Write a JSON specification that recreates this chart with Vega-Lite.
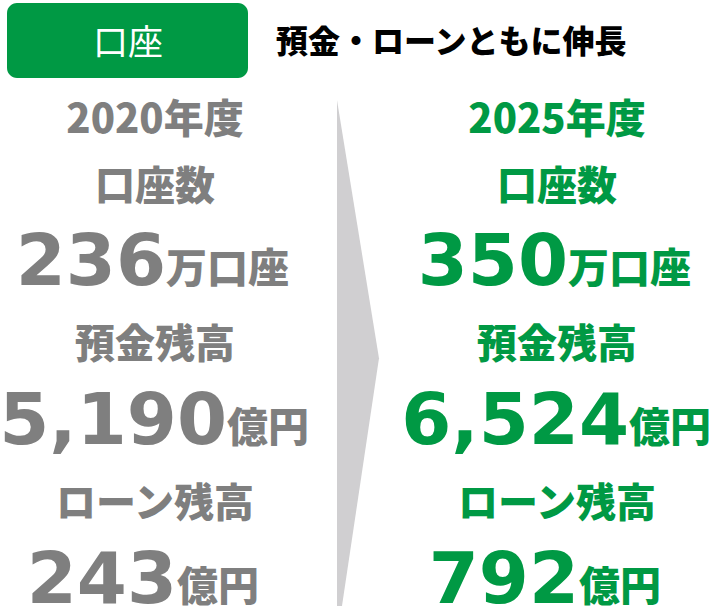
{
  "$schema": "https://vega.github.io/schema/vega-lite/v6.json",
  "width": 718,
  "height": 606,
  "padding": 0,
  "autosize": {"type": "none"},
  "background": "white",
  "config": {"view": {"stroke": null}},
  "datasets": {
    "figures": [
      {"year": "2020年度", "metric": "口座数", "value": 236, "unit": "万口座"},
      {"year": "2020年度", "metric": "預金残高", "value": 5190, "unit": "億円"},
      {"year": "2020年度", "metric": "ローン残高", "value": 243, "unit": "億円"},
      {"year": "2025年度", "metric": "口座数", "value": 350, "unit": "万口座"},
      {"year": "2025年度", "metric": "預金残高", "value": 6524, "unit": "億円"},
      {"year": "2025年度", "metric": "ローン残高", "value": 792, "unit": "億円"}
    ],
    "banner": [{"section": "口座", "headline": "預金・ローンともに伸長"}],
    "transition": [{"step": "→"}]
  },
  "layer": [
    {
      "data": {"name": "transition"},
      "mark": {"type": "point", "shape": "M-0.0736,-1L0.0891,0L-0.0543,0.96L-0.0736,0.96Z", "size": 266256, "filled": true, "color": "#d0cfd1", "opacity": 1, "strokeWidth": 0},
      "encoding": {
        "x": {"field": "step", "type": "nominal", "axis": null, "scale": {"type": "point", "domain": ["2020年度", "→", "2025年度"], "range": [155, 557], "padding": 0}},
        "y": {"datum": "預金残高", "type": "nominal", "axis": null, "scale": {"type": "point", "domain": ["口座数", "預金残高", "ローン残高"], "range": [199.5, 517], "padding": 0}}
      }
    },
    {
      "data": {"name": "banner"},
      "mark": {"type": "rect", "width": 241, "height": 75, "cornerRadius": 10, "color": "#009944", "xOffset": -27.5, "yOffset": -159},
      "encoding": {
        "x": {"datum": "2020年度", "type": "nominal", "axis": null, "scale": {"type": "point", "domain": ["2020年度", "→", "2025年度"], "range": [155, 557], "padding": 0}},
        "y": {"datum": "口座数", "type": "nominal", "axis": null, "scale": {"type": "point", "domain": ["口座数", "預金残高", "ローン残高"], "range": [199.5, 517], "padding": 0}}
      }
    },
    {
      "data": {"name": "banner"},
      "mark": {"type": "text", "align": "center", "baseline": "alphabetic", "dx": -27, "dy": -144.5, "font": "Noto Sans CJK JP", "fontSize": 35, "fontWeight": "normal", "color": "white"},
      "encoding": {
        "x": {"datum": "2020年度", "type": "nominal", "axis": null, "scale": {"type": "point", "domain": ["2020年度", "→", "2025年度"], "range": [155, 557], "padding": 0}},
        "y": {"datum": "口座数", "type": "nominal", "axis": null, "scale": {"type": "point", "domain": ["口座数", "預金残高", "ローン残高"], "range": [199.5, 517], "padding": 0}},
        "text": {"field": "section", "type": "nominal"}
      }
    },
    {
      "data": {"name": "banner"},
      "mark": {"type": "text", "align": "left", "baseline": "alphabetic", "dx": 121, "dy": -146.5, "font": "Noto Sans CJK JP", "fontSize": 32, "fontWeight": 900, "color": "black"},
      "encoding": {
        "x": {"datum": "2020年度", "type": "nominal", "axis": null, "scale": {"type": "point", "domain": ["2020年度", "→", "2025年度"], "range": [155, 557], "padding": 0}},
        "y": {"datum": "口座数", "type": "nominal", "axis": null, "scale": {"type": "point", "domain": ["口座数", "預金残高", "ローン残高"], "range": [199.5, 517], "padding": 0}},
        "text": {"field": "headline", "type": "nominal"}
      }
    },
    {
      "data": {"name": "figures"},
      "transform": [{"filter": "datum.metric === '口座数'"}],
      "mark": {"type": "text", "align": "center", "baseline": "alphabetic", "dy": -66.5, "font": "Noto Sans CJK JP", "fontSize": 40, "fontWeight": 900},
      "encoding": {
        "x": {"field": "year", "type": "nominal", "axis": null, "scale": {"type": "point", "domain": ["2020年度", "→", "2025年度"], "range": [155, 557], "padding": 0}},
        "y": {"field": "metric", "type": "nominal", "axis": null, "scale": {"type": "point", "domain": ["口座数", "預金残高", "ローン残高"], "range": [199.5, 517], "padding": 0}},
        "text": {"field": "year", "type": "nominal"},
        "color": {"field": "year", "type": "nominal", "legend": null, "scale": {"domain": ["2020年度", "2025年度"], "range": ["#7f7f7f", "#009944"]}}
      }
    },
    {
      "data": {"name": "figures"},
      "mark": {"type": "text", "align": "center", "baseline": "alphabetic", "font": "Noto Sans CJK JP", "fontSize": 40, "fontWeight": 900},
      "encoding": {
        "x": {"field": "year", "type": "nominal", "axis": null, "scale": {"type": "point", "domain": ["2020年度", "→", "2025年度"], "range": [155, 557], "padding": 0}},
        "y": {"field": "metric", "type": "nominal", "axis": null, "scale": {"type": "point", "domain": ["口座数", "預金残高", "ローン残高"], "range": [199.5, 517], "padding": 0}},
        "text": {"field": "metric", "type": "nominal"},
        "color": {"field": "year", "type": "nominal", "legend": null, "scale": {"domain": ["2020年度", "2025年度"], "range": ["#7f7f7f", "#009944"]}}
      }
    },
    {
      "data": {"name": "figures"},
      "mark": {"type": "text", "align": "right", "baseline": "alphabetic", "dx": {"expr": "datum.metric === '預金残高' ? 72 : datum.metric === 'ローン残高' ? 22 : 11"}, "dy": 85.5, "font": "DejaVu Sans", "fontSize": 72, "fontWeight": "bold"},
      "encoding": {
        "x": {"field": "year", "type": "nominal", "axis": null, "scale": {"type": "point", "domain": ["2020年度", "→", "2025年度"], "range": [155, 557], "padding": 0}},
        "y": {"field": "metric", "type": "nominal", "axis": null, "scale": {"type": "point", "domain": ["口座数", "預金残高", "ローン残高"], "range": [199.5, 517], "padding": 0}},
        "text": {"field": "value", "type": "quantitative", "format": ","},
        "color": {"field": "year", "type": "nominal", "legend": null, "scale": {"domain": ["2020年度", "2025年度"], "range": ["#7f7f7f", "#009944"]}}
      }
    },
    {
      "data": {"name": "figures"},
      "mark": {"type": "text", "align": "left", "baseline": "alphabetic", "dx": {"expr": "datum.metric === '預金残高' ? 72 : datum.metric === 'ローン残高' ? 22 : 11"}, "dy": 83.5, "font": "Noto Sans CJK JP", "fontSize": 41, "fontWeight": 900},
      "encoding": {
        "x": {"field": "year", "type": "nominal", "axis": null, "scale": {"type": "point", "domain": ["2020年度", "→", "2025年度"], "range": [155, 557], "padding": 0}},
        "y": {"field": "metric", "type": "nominal", "axis": null, "scale": {"type": "point", "domain": ["口座数", "預金残高", "ローン残高"], "range": [199.5, 517], "padding": 0}},
        "text": {"field": "unit", "type": "nominal"},
        "color": {"field": "year", "type": "nominal", "legend": null, "scale": {"domain": ["2020年度", "2025年度"], "range": ["#7f7f7f", "#009944"]}}
      }
    }
  ]
}
